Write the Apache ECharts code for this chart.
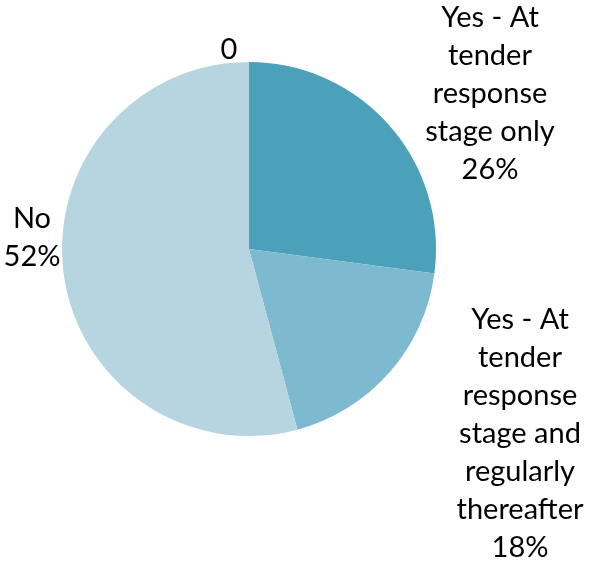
<!DOCTYPE html>
<html>
<head>
<meta charset="utf-8">
<script src="https://cdn.jsdelivr.net/npm/echarts@6/dist/echarts.min.js"></script>
<style>html,body{margin:0;padding:0;background:#fff}#c{width:591px;height:569px}</style>
</head>
<body>
<div id="c"></div>
<script>
var categories = ['Yes - At tender response stage only', 'Yes - At tender response stage and regularly thereafter', 'No', ''];
var labelTexts = ['Yes - At\ntender\nresponse\nstage only', 'Yes - At\ntender\nresponse\nstage and\nregularly\nthereafter', 'No', ''];
var values = [26, 18, 52, 0];
var colors = ['#4aa1b9', '#7ebacf', '#b6d5e0', '#b6d5e0'];
var labelPos = [[490, 94], [520, 434], [32, 238], [229, 50]];

var chart = echarts.init(document.getElementById('c'), null, {renderer: 'canvas'});
chart.setOption({
  animation: false,
  series: [{
    type: 'pie',
    center: [249, 249],
    radius: [0, 187],
    startAngle: 90,
    clockwise: true,
    avoidLabelOverlap: false,
    minShowLabelAngle: -1,
    data: values.map(function (v, i) {
      return {name: categories[i], value: v, itemStyle: {color: colors[i]}};
    }),
    label: {
      show: true,
      position: 'outside',
      fontFamily: 'Lato',
      fontSize: 29,
      lineHeight: 38,
      color: '#000',
      align: 'center',
      formatter: function (p) {
        var t = labelTexts[p.dataIndex];
        return t ? t + '\n' + p.value + '%' : String(p.value);
      }
    },
    labelLine: {show: false},
    labelLayout: function (p) {
      var pos = labelPos[p.dataIndex];
      return {x: pos[0], y: pos[1], align: 'center', verticalAlign: 'middle'};
    },
    itemStyle: {borderWidth: 0}
  }]
});
</script>
</body>
</html>
